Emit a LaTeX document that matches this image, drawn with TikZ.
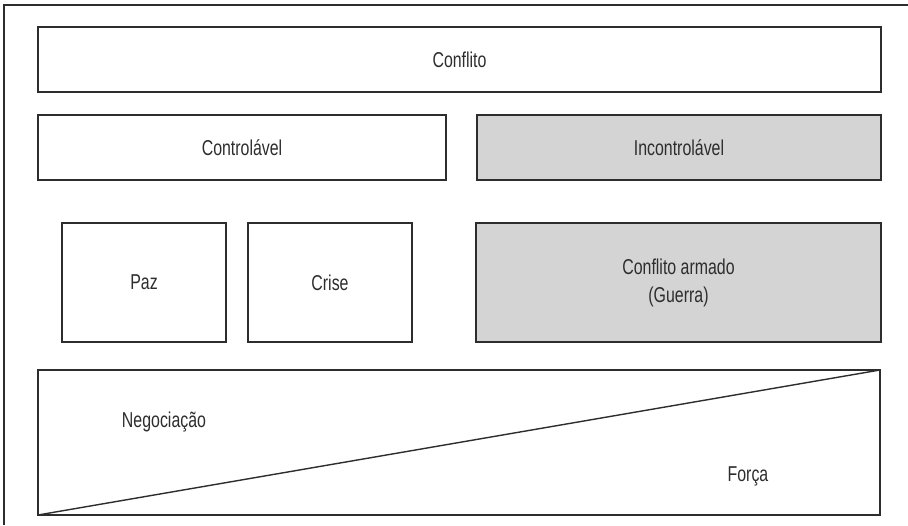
\documentclass[tikz,border=0pt]{standalone}
\usepackage{fontspec}
\setmainfont{Liberation Sans}[FakeStretch=0.74]
\usepackage{xcolor}

\definecolor{boxgray}{RGB}{212,212,212}
\definecolor{edge}{RGB}{45,45,45}

\tikzset{
  box/.style={draw=edge, line width=1.4pt, inner sep=0pt, outer sep=0pt,
    text=edge, align=center, font=\fontsize{21.5}{28}\selectfont},
  shaded/.style={box, fill=boxgray},
  label/.style={text=edge, inner sep=0pt, font=\fontsize{21.5}{28}\selectfont},
}

\begin{document}
\begin{tikzpicture}[x=1pt,y=-1pt]
    \useasboundingbox (0,0) rectangle (908,525);

    % Cornice
    \draw[edge, line width=1.2pt] (908,5) -- (4,5) -- (4,525);

    % Livello superiore
    \node[box, minimum width=843pt, minimum height=65pt] (conflito) at (459.5,59.5) {Conflito};

    % Controlabile / incontrolabile
    \node[box, minimum width=408pt, minimum height=65pt] (controlavel) at (242,147.5) {Controlável};
    \node[shaded, minimum width=404pt, minimum height=65pt] (incontrolavel) at (679,147.5) {Incontrolável};

    % Stati
    \node[box, minimum width=164pt, minimum height=119pt] (paz) at (144,282.5) {Paz};
    \node[box, minimum width=164pt, minimum height=119pt] (crise) at (330,282.5) {Crise};
    \node[shaded, minimum width=405pt, minimum height=119pt] (armado) at (678.5,282.5) {Conflito armado\\(Guerra)};

    % Negoziazione e forza
    \node[box, minimum width=842pt, minimum height=145pt] (escala) at (459,442.5) {};
    \draw[edge, line width=1.4pt] (escala.south west) -- (escala.north east);
    \node[label] (negociacao) at (164,422) {Negociação};
    \node[label] (forca) at (748,476) {Força};
\end{tikzpicture}
\end{document}
